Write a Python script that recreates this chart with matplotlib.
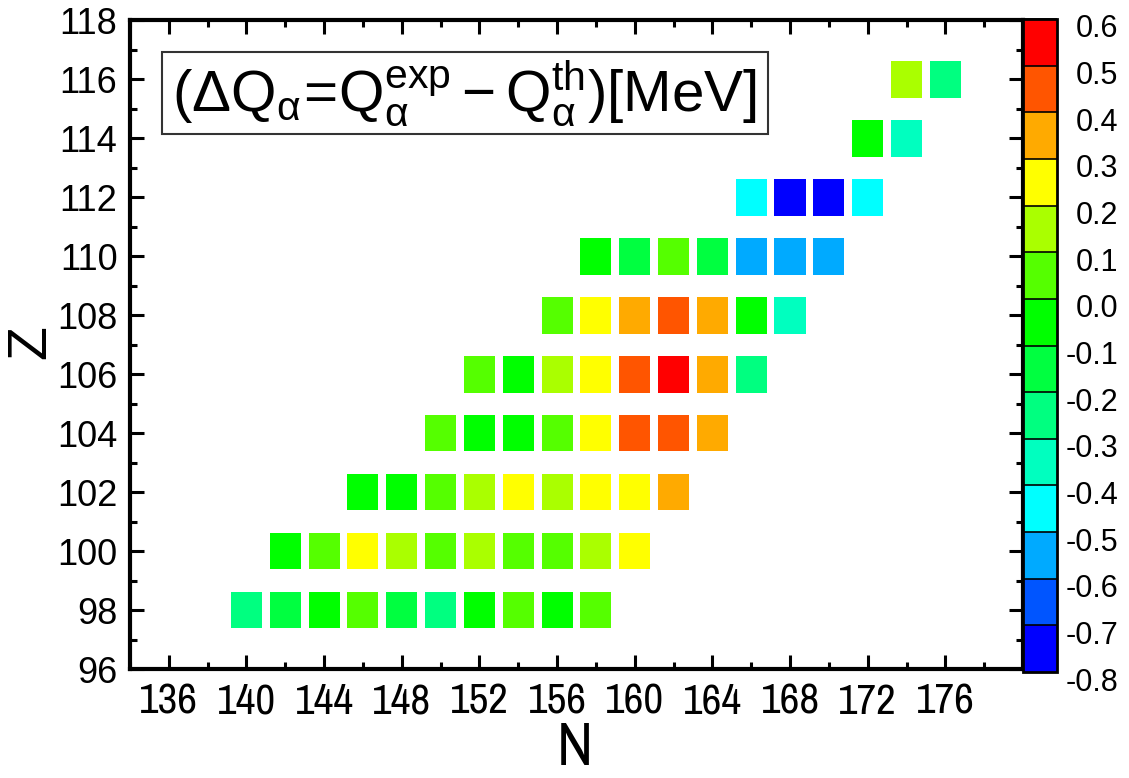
import numpy as np
import matplotlib
matplotlib.use("Agg")
import matplotlib.pyplot as plt
from matplotlib import font_manager as fm
from matplotlib.colors import ListedColormap, BoundaryNorm
from matplotlib.patches import Rectangle
from matplotlib.transforms import ScaledTranslation


def has_font(name):
    try:
        fm.findfont(fm.FontProperties(family=name), fallback_to_default=False)
        return True
    except ValueError:
        return False


base = "Liberation Sans"
narrow = base
for cand in ["Liberation Sans Narrow", "Arial Narrow", "Archivo Narrow", "Roboto Condensed"]:
    if has_font(cand):
        narrow = cand
        break

plt.rcParams["font.family"] = [base, "DejaVu Sans"]
plt.rcParams["mathtext.fontset"] = "custom"
plt.rcParams["mathtext.rm"] = base
plt.rcParams["mathtext.it"] = base
plt.rcParams["mathtext.sf"] = base

# --------- data: Delta Q_alpha per (N, Z) ---------
z_rows = [98, 100, 102, 104, 106, 108, 110, 112, 114, 116]
n_first = [140, 142, 146, 150, 152, 156, 158, 166, 172, 174]
dq_z98 = [-0.25, -0.15, -0.05, 0.05, -0.15, -0.25, -0.05, 0.05, -0.05, 0.05]
dq_z100 = [-0.05, 0.05, 0.25, 0.15, 0.05, 0.15, 0.05, 0.05, 0.15, 0.25]
dq_z102 = [-0.05, -0.05, 0.05, 0.15, 0.25, 0.15, 0.25, 0.25, 0.35]
dq_z104 = [0.05, -0.05, -0.05, 0.05, 0.25, 0.45, 0.45, 0.35]
dq_z106 = [0.05, -0.05, 0.15, 0.25, 0.45, 0.55, 0.35, -0.25]
dq_z108 = [0.05, 0.25, 0.35, 0.45, 0.35, -0.05, -0.35]
dq_z110 = [-0.05, -0.15, 0.05, -0.15, -0.55, -0.55, -0.55]
dq_z112 = [-0.45, -0.75, -0.75, -0.45]
dq_z114 = [-0.05, -0.35]
dq_z116 = [0.15, -0.25]
rows = [dq_z98, dq_z100, dq_z102, dq_z104, dq_z106,
        dq_z108, dq_z110, dq_z112, dq_z114, dq_z116]

levels = np.round(np.arange(-0.8, 0.61, 0.1), 1) + 0.0
level_colors = ["#0000ff", "#0055ff", "#00aaff", "#00ffff", "#00ffbf",
                "#00ff80", "#00ff40", "#00ff00", "#55ff00", "#aaff00",
                "#ffff00", "#ffaa00", "#ff5500", "#ff0000"]

N, Z, dq = [], [], []
for z, n0, vals in zip(z_rows, n_first, rows):
    for i, v in enumerate(vals):
        N.append(n0 + 2 * i)
        Z.append(z)
        dq.append(v)
N = np.array(N); Z = np.array(Z); dq = np.array(dq)

cmap = ListedColormap(level_colors)
norm = BoundaryNorm(levels, cmap.N)

fig = plt.figure(figsize=(11.29, 7.78), dpi=100)
ax = fig.add_axes([0.1151, 0.1401, 0.7910, 0.8340])

w, h = 1.6, 1.25
ax.bar(N, h, width=w, bottom=Z - h / 2, color=cmap(norm(dq)),
       edgecolor="none", zorder=2)

ax.set_xlim(134, 180)
ax.set_ylim(96, 118)
ax.set_xticks(np.arange(136, 177, 4))
ax.set_xticks(np.arange(134, 181, 2), minor=True)
ax.set_yticks(np.arange(96, 119, 2))
ax.set_yticks(np.arange(96, 119, 1), minor=True)
ax.tick_params(which="both", direction="in", top=True, right=True, width=2.2)
ax.tick_params(which="major", length=10)
ax.tick_params(which="minor", length=5)
ax.tick_params(axis="y", pad=9)
ax.tick_params(axis="x", pad=10)
for sp in ax.spines.values():
    sp.set_linewidth(3)
for lbl in ax.get_yticklabels():
    lbl.set_fontsize(26)
for lbl in ax.get_xticklabels():
    lbl.set_fontsize(31 if narrow != base else 25)
    lbl.set_family(narrow)

fig.text(0.028, 0.56, "Z", rotation=90, fontsize=40,
         ha="center", va="center")
fig.text(0.509, 0.038, "N", fontsize=44, family=narrow,
         ha="center", va="center")

# boxed formula label
ax.add_patch(Rectangle((0.0358, 0.8243), 0.6786, 0.1264, transform=ax.transAxes,
                       fc="white", ec="#333333", lw=1.5, zorder=3))
ax.text(0.375, 0.887, r"$\mathrm{(ΔQ_{α}\!=\!Q_{α}^{exp}-Q_{α}^{th})[MeV]}$",
        transform=ax.transAxes, fontsize=42, ha="center", va="center", zorder=4)

cax = fig.add_axes([0.9061, 0.1362, 0.0301, 0.8394])
cb = fig.colorbar(plt.cm.ScalarMappable(norm=norm, cmap=cmap), cax=cax,
                  boundaries=levels, ticks=levels, drawedges=True)
cb.outline.set_linewidth(2)
cb.dividers.set_linewidth(1.2)
cb.ax.set_yticklabels([f"{v:.1f}" for v in levels])
cb.ax.tick_params(length=0, pad=44, labelsize=22)
for lbl in cb.ax.get_yticklabels():
    lbl.set_ha("right")
    lbl.set_transform(lbl.get_transform() +
                      ScaledTranslation(0, -0.07, fig.dpi_scale_trans))

fig.savefig("out.png", dpi=100)
